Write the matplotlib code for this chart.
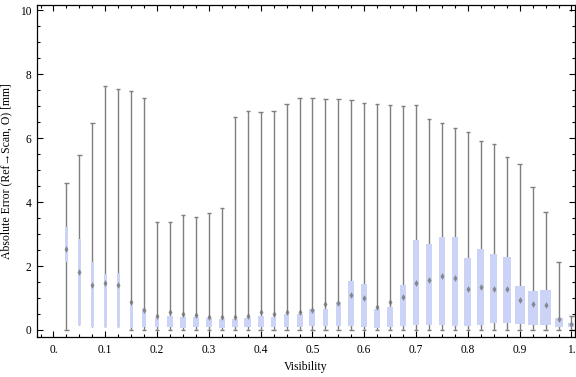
import matplotlib
matplotlib.use("Agg")
import matplotlib.pyplot as plt
from matplotlib.ticker import MultipleLocator, FixedLocator

plt.rcParams['font.family'] = ['Liberation Serif', 'DejaVu Serif']

# visibility bins (box centres)
visibility = [0.025, 0.05, 0.075, 0.1, 0.125, 0.15, 0.175, 0.2, 0.225, 0.25,
              0.275, 0.3, 0.325, 0.35, 0.375, 0.4, 0.425, 0.45, 0.475, 0.5,
              0.525, 0.55, 0.575, 0.6, 0.625, 0.65, 0.675, 0.7, 0.725, 0.75,
              0.775, 0.8, 0.825, 0.85, 0.875, 0.9, 0.925, 0.95, 0.975, 1.0]

# whisker ends, quartiles and centre marker (mm)
w_max = [4.60, 5.47, 6.46, 7.63, 7.55, 7.46, 7.24, 3.39, 3.39, 3.61,
         3.52, 3.65, 3.80, 6.67, 6.86, 6.83, 6.86, 7.08, 7.24, 7.24,
         7.21, 7.21, 7.18, 7.11, 7.08, 7.05, 6.99, 7.05, 6.61, 6.46,
         6.33, 6.18, 5.91, 5.83, 5.40, 5.18, 4.46, 3.68, 2.11, 0.45]
q3 = [3.21, 2.86, 2.11, 1.74, 1.77, 0.78, 0.69, 0.39, 0.44, 0.41,
      0.41, 0.37, 0.34, 0.34, 0.37, 0.44, 0.40, 0.50, 0.50, 0.65,
      0.65, 0.89, 1.53, 1.44, 0.66, 0.72, 1.41, 2.81, 2.69, 2.91,
      2.91, 2.25, 2.53, 2.37, 2.28, 1.37, 1.23, 1.26, 0.39, 0.23]
q1 = [2.11, 0.16, 0.08, 0.10, 0.08, 0.05, 0.08, 0.10, 0.10, 0.07,
      0.08, 0.08, 0.06, 0.10, 0.08, 0.10, 0.10, 0.10, 0.10, 0.13,
      0.13, 0.13, 0.13, 0.10, 0.07, 0.10, 0.13, 0.16, 0.16, 0.16,
      0.14, 0.13, 0.16, 0.21, 0.21, 0.18, 0.16, 0.16, 0.10, 0.10]
w_min = [0.0, 0.16, 0.08, 0.10, 0.08, 0.0, 0.0, 0.0, 0.0, 0.0,
         0.0, 0.0, 0.0, 0.0, 0.0, 0.0, 0.0, 0.0, 0.0, 0.0,
         0.0, 0.0, 0.0, 0.0, 0.0, 0.0, 0.0, 0.0, 0.0, 0.0,
         0.0, 0.0, 0.0, 0.0, 0.0, 0.0, 0.0, 0.0, 0.0, 0.0]
centre = [2.52, 1.82, 1.41, 1.46, 1.41, 0.89, 0.62, 0.45, 0.56, 0.49,
          0.46, 0.41, 0.41, 0.41, 0.43, 0.55, 0.49, 0.55, 0.55, 0.61,
          0.80, 0.85, 1.10, 0.99, 0.73, 0.89, 1.04, 1.48, 1.56, 1.69,
          1.63, 1.27, 1.33, 1.29, 1.27, 0.93, 0.80, 0.78, 0.35, 0.20]

# box widths in pixels (they vary in the original)
box_px = [3, 2.5, 3, 3, 3, 3.3, 4, 4, 5.3, 6,
          6, 6, 6.3, 6, 6.7, 6, 5, 5.3, 6, 6,
          5, 5, 6, 6, 6, 6, 6, 6, 6, 6,
          6, 7, 7, 7, 8, 10, 10, 11, 8, 6]

px = 1 / 518.0
box_w = [b * px for b in box_px]
cap = 2.2 * px

fig = plt.figure(figsize=(5.76, 3.77), dpi=100)
ax = fig.add_axes([0.0637, 0.1069, 0.9346, 0.8806])

grey = '#7f7f7f'
ax.vlines(visibility, w_min, w_max, color=grey, lw=1.0, zorder=1)
for x, lo, hi, b in zip(visibility, w_min, w_max, q1):
    ax.hlines(hi, x - cap, x + cap, color=grey, lw=1.0, zorder=1)
    if lo < b:
        ax.hlines(lo, x - cap, x + cap, color=grey, lw=1.0, zorder=1)

heights = [t - b for t, b in zip(q3, q1)]
ax.bar(visibility, heights, bottom=q1, width=box_w, color='#cbd3f6',
       edgecolor='none', zorder=2)
ax.plot(visibility, centre, ls='none', marker='d', ms=3.4, color='#747474',
        mec='none', alpha=0.8, zorder=3)

ax.set_xlim(-0.0324, 1.0068)
ax.set_ylim(-0.21, 10.17)

ax.xaxis.set_major_locator(FixedLocator([0, 0.1, 0.2, 0.3, 0.4, 0.5, 0.6, 0.7, 0.8, 0.9, 1.0]))
ax.xaxis.set_minor_locator(MultipleLocator(0.025))
ax.set_xticklabels(['0.', '0.1', '0.2', '0.3', '0.4', '0.5', '0.6', '0.7', '0.8', '0.9', '1.'])
ax.yaxis.set_major_locator(MultipleLocator(2))
ax.yaxis.set_minor_locator(MultipleLocator(0.5))

ax.tick_params(which='both', direction='in', top=True, right=True, width=0.8,
               labelsize=8.3, colors='black')
ax.tick_params(which='major', length=4.5)
ax.tick_params(which='minor', length=2.5)
ax.tick_params(axis='x', pad=5)
ax.tick_params(axis='y', pad=4)
for s in ax.spines.values():
    s.set_linewidth(0.9)

ax.set_xlabel('Visibility', fontsize=8.5, labelpad=4)
ax.set_ylabel('Absolute Error (Ref\u2192Scan, O) [mm]', fontsize=8.5, labelpad=5)

fig.savefig('out.png', dpi=100)
